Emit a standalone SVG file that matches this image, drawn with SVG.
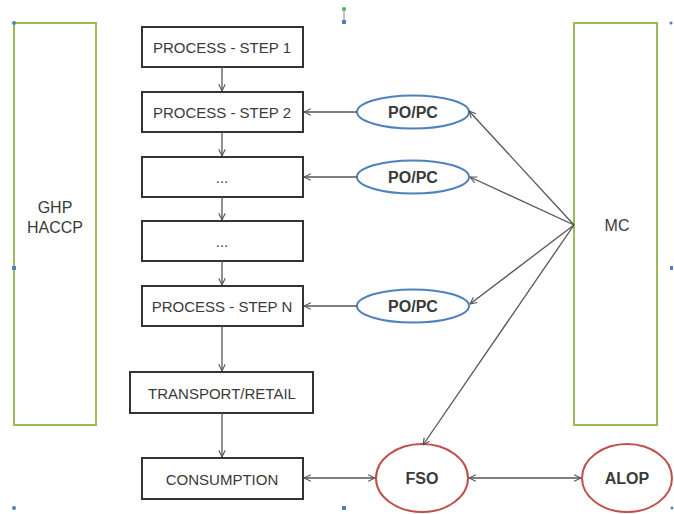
<svg xmlns="http://www.w3.org/2000/svg" width="674" height="514" viewBox="0 0 674 514">
<defs>
<style>
.green{fill:#fff;stroke:#9bbb59;stroke-width:2}
.box{fill:#fff;stroke:#333;stroke-width:2}
.po{fill:#fff;stroke:#4f81bd;stroke-width:2}
.red{fill:#fff;stroke:#c0504d;stroke-width:2}
.t{font-family:"Liberation Sans",Arial,sans-serif;font-size:15px;fill:#3a3a3a;text-anchor:middle;dominant-baseline:central}
.l{font-size:16px}
.b{font-weight:bold;font-size:16px}
.c{stroke:#555;stroke-width:1.3;fill:none}
.h{fill:#4f81bd}
</style>
<marker id="a" viewBox="0 0 10 10" refX="9.5" refY="5" markerWidth="8" markerHeight="8" markerUnits="userSpaceOnUse" orient="auto-start-reverse">
<path d="M1,1 L9.5,5 L1,9" fill="none" stroke="#555" stroke-width="1.4"/>
</marker>
</defs>
<rect width="674" height="514" fill="#fff"/>
<g id="ghp"><rect class="green" x="14" y="23" width="82" height="402"/><text class="t l" x="55" y="207">GHP</text><text class="t l" x="55" y="227">HACCP</text></g>
<g id="mc"><rect class="green" x="574" y="23" width="83" height="402"/><text class="t l" x="617" y="225">MC</text></g>
<g id="step1"><rect class="box" x="142" y="27" width="161" height="40"/><text class="t" x="222" y="47">PROCESS - STEP 1</text></g>
<g id="step2"><rect class="box" x="142" y="92" width="161" height="40"/><text class="t" x="222" y="112">PROCESS - STEP 2</text></g>
<g id="step3"><rect class="box" x="142" y="157" width="161" height="40"/><text class="t" x="222" y="177">...</text></g>
<g id="step4"><rect class="box" x="142" y="221" width="161" height="40"/><text class="t" x="222" y="241">...</text></g>
<g id="stepn"><rect class="box" x="142" y="286" width="161" height="40"/><text class="t" x="222" y="306">PROCESS - STEP N</text></g>
<g id="transport"><rect class="box" x="130" y="372" width="183" height="41"/><text class="t" x="222" y="393">TRANSPORT/RETAIL</text></g>
<g id="consumption"><rect class="box" x="142" y="458" width="161" height="41"/><text class="t" x="222" y="479">CONSUMPTION</text></g>
<g id="po1"><ellipse class="po" cx="413" cy="112" rx="56" ry="16.5"/><text class="t b" x="413" y="112">PO/PC</text></g>
<g id="po2"><ellipse class="po" cx="413" cy="177" rx="56" ry="16.5"/><text class="t b" x="413" y="177">PO/PC</text></g>
<g id="po3"><ellipse class="po" cx="413" cy="306" rx="56" ry="16.5"/><text class="t b" x="413" y="306">PO/PC</text></g>
<g id="fso"><ellipse class="red" cx="422" cy="478" rx="46" ry="34"/><text class="t b" x="422" y="478">FSO</text></g>
<g id="alop"><ellipse class="red" cx="627" cy="478" rx="45" ry="34"/><text class="t b" x="627" y="478">ALOP</text></g>
<g id="connectors">
<line class="c" x1="222" y1="67" x2="222" y2="91" marker-end="url(#a)"/>
<line class="c" x1="222" y1="132" x2="222" y2="156" marker-end="url(#a)"/>
<line class="c" x1="222" y1="197" x2="222" y2="220" marker-end="url(#a)"/>
<line class="c" x1="222" y1="261" x2="222" y2="285" marker-end="url(#a)"/>
<line class="c" x1="222" y1="326" x2="222" y2="371" marker-end="url(#a)"/>
<line class="c" x1="222" y1="413" x2="222" y2="457" marker-end="url(#a)"/>
<line class="c" x1="357" y1="112" x2="304" y2="112" marker-end="url(#a)"/>
<line class="c" x1="357" y1="177" x2="304" y2="177" marker-end="url(#a)"/>
<line class="c" x1="357" y1="306" x2="304" y2="306" marker-end="url(#a)"/>
<line class="c" x1="574" y1="225" x2="469" y2="111" marker-end="url(#a)"/>
<line class="c" x1="574" y1="225" x2="470" y2="177" marker-end="url(#a)"/>
<line class="c" x1="574" y1="225" x2="470" y2="304" marker-end="url(#a)"/>
<line class="c" x1="574" y1="225" x2="423" y2="445" marker-end="url(#a)"/>
<line class="c" x1="304" y1="478" x2="375" y2="478" marker-start="url(#a)" marker-end="url(#a)"/>
<line class="c" x1="469" y1="478" x2="581" y2="478" marker-start="url(#a)" marker-end="url(#a)"/>
</g>
<g id="handles">
<circle class="h" cx="14" cy="23" r="2"/>
<rect class="h" x="12" y="266" width="4" height="4"/>
<circle class="h" cx="14" cy="508" r="2"/>
<line x1="344" y1="9" x2="344" y2="21" stroke="#888" stroke-width="1"/>
<circle cx="344" cy="9" r="2" fill="#4caf50"/>
<rect class="h" x="342" y="20" width="4" height="4"/>
<rect class="h" x="342" y="506" width="4" height="4"/>
<circle class="h" cx="671" cy="23" r="1.5"/>
<rect class="h" x="670" y="266" width="3" height="4"/>
<circle class="h" cx="672" cy="508" r="1.5"/>
</g>
</svg>
